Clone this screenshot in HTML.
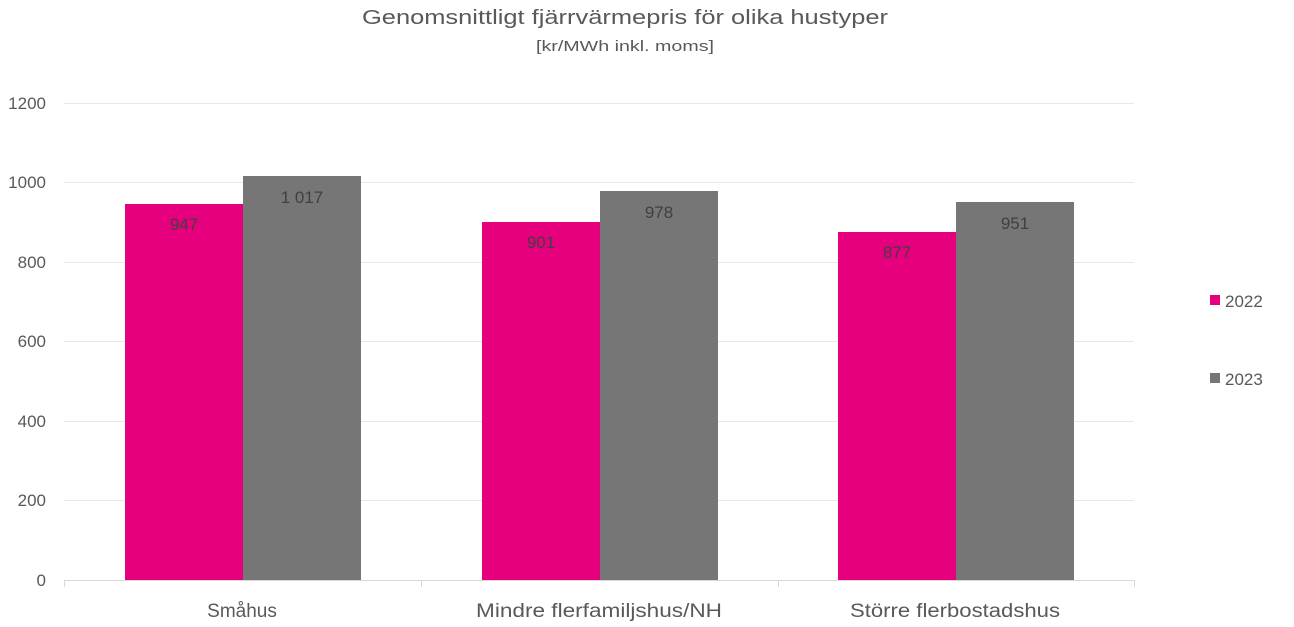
<!DOCTYPE html>
<html><head><meta charset="utf-8"><style>body{margin:0;background:#fff}svg{display:block}</style></head>
<body>
<svg width="1294" height="627" xmlns="http://www.w3.org/2000/svg" font-family="Liberation Sans, sans-serif">
<rect width="1294" height="627" fill="#fff"/>
<text x="625" y="24" text-anchor="middle" font-size="20" fill="#595959" textLength="526" lengthAdjust="spacingAndGlyphs">Genomsnittligt fjärrvärmepris för olika hustyper</text>
<text x="625" y="51" text-anchor="middle" font-size="15" fill="#595959" textLength="178" lengthAdjust="spacingAndGlyphs">[kr/MWh inkl. moms]</text>
<g stroke="#e8e8e8" stroke-width="1">
<line x1="64" x2="1134" y1="103.5" y2="103.5"/>
<line x1="64" x2="1134" y1="182.5" y2="182.5"/>
<line x1="64" x2="1134" y1="262.5" y2="262.5"/>
<line x1="64" x2="1134" y1="341.5" y2="341.5"/>
<line x1="64" x2="1134" y1="421.5" y2="421.5"/>
<line x1="64" x2="1134" y1="500.5" y2="500.5"/>
</g>
<g stroke="#d9d9d9" stroke-width="1">
<line x1="64" x2="1134" y1="580.5" y2="580.5"/>
<line x1="64.5" x2="64.5" y1="580" y2="587"/>
<line x1="421.5" x2="421.5" y1="580" y2="587"/>
<line x1="778.5" x2="778.5" y1="580" y2="587"/>
<line x1="1134.5" x2="1134.5" y1="580" y2="587"/>
</g>
<g font-size="17" fill="#595959" text-anchor="end">
<text x="46" y="109">1200</text><text x="46" y="188">1000</text><text x="46" y="268">800</text>
<text x="46" y="347">600</text><text x="46" y="427">400</text><text x="46" y="506">200</text><text x="46" y="586">0</text>
</g>
<g fill="#E6007E">
<rect x="125" y="204" width="118" height="376"/>
<rect x="482" y="222" width="118" height="358"/>
<rect x="838" y="232" width="118" height="348"/>
</g>
<g fill="#767676">
<rect x="243" y="176" width="118" height="404"/>
<rect x="600" y="191" width="118" height="389"/>
<rect x="956" y="202" width="118" height="378"/>
</g>
<g font-size="17" fill="#404040" text-anchor="middle">
<text x="184" y="230">947</text><text x="302" y="203">1 017</text>
<text x="541" y="248">901</text><text x="659" y="218">978</text>
<text x="897" y="258">877</text><text x="1015" y="229">951</text>
</g>
<g font-size="19" fill="#595959" text-anchor="middle">
<text x="242" y="617">Småhus</text>
<text x="599" y="617" textLength="246" lengthAdjust="spacingAndGlyphs">Mindre flerfamiljshus/NH</text>
<text x="955" y="617" textLength="210" lengthAdjust="spacingAndGlyphs">Större flerbostadshus</text>
</g>
<rect x="1210" y="295" width="10" height="10" fill="#E6007E"/>
<rect x="1210" y="373" width="10" height="10" fill="#767676"/>
<g font-size="17" fill="#595959">
<text x="1225" y="307">2022</text><text x="1225" y="385">2023</text>
</g>
</svg>
</body></html>
